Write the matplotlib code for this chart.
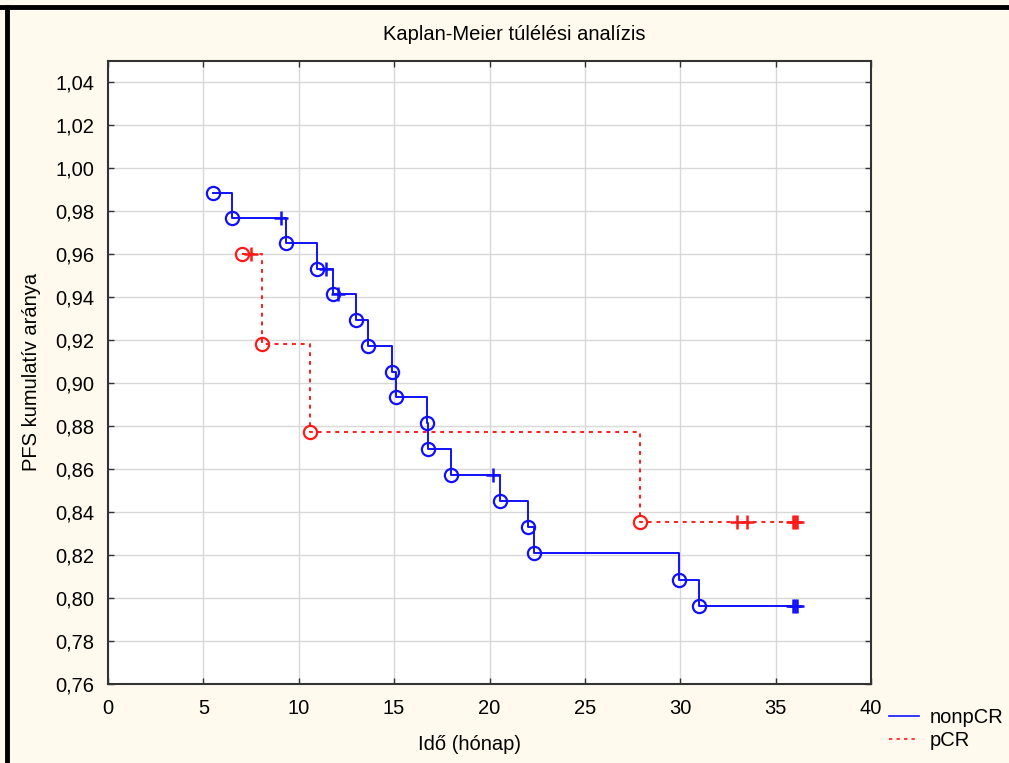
import matplotlib
matplotlib.use("Agg")
import matplotlib.pyplot as plt
from matplotlib.lines import Line2D
from matplotlib.ticker import FuncFormatter, MultipleLocator

plt.rcParams['font.family'] = ['Liberation Sans', 'DejaVu Sans']

# nonpCR: események (idő, túlélés) és cenzorált idők
non_t = [5.5, 6.5, 9.33, 10.96, 11.8, 13.0, 13.63, 14.89, 15.1, 16.72, 16.78,
         17.98, 20.55, 22.0, 22.33, 29.93, 30.98]
non_s = [0.9885, 0.9768, 0.9652, 0.9532, 0.9416, 0.9295, 0.9174, 0.9053, 0.8933,
         0.8812, 0.8691, 0.8570, 0.8450, 0.8329, 0.8208, 0.8083, 0.7962]
non_cens_t = [9.07, 11.43, 12.06, 20.18, 35.9, 36.0, 36.1]
non_cens_s = [0.9768, 0.9532, 0.9416, 0.8570, 0.7962, 0.7962, 0.7962]

# pCR
pcr_t = [7.02, 8.07, 10.59, 27.89]
pcr_s = [0.9601, 0.9183, 0.8770, 0.8352]
pcr_cens_t = [7.5, 32.97, 33.5, 35.9, 36.0, 36.1]
pcr_cens_s = [0.9601, 0.8352, 0.8352, 0.8352, 0.8352, 0.8352]
pcr_end = 36.0
non_end = 36.0

BLUE = '#1010ff'
RED = '#ff1a1a'
FS = 14.5

fig = plt.figure(figsize=(10.09, 7.63), dpi=100)
fig.patch.set_facecolor('#fff9ee')
W, H = 1009, 763
ax = fig.add_axes([108 / W, 1 - 684 / H, (871 - 108) / W, (684 - 61) / H])
ax.set_facecolor('white')


def km_line(t, s, end, color, ls):
    xs = list(t) + [end]
    ys = list(s) + [s[-1]]
    ax.step(xs, ys, where='post', color=color, lw=1.4, ls=ls, zorder=3)
    ax.plot(t, s, ls='none', marker='o', ms=9.5, mfc='none', mec=color, mew=1.6, zorder=4)


km_line(non_t, non_s, non_end, BLUE, '-')
km_line(pcr_t, pcr_s, pcr_end, RED, (0, (2, 2.5)))
ax.plot(non_cens_t, non_cens_s, ls='none', marker='+', ms=10, mew=1.8, color=BLUE, zorder=4)
ax.plot(pcr_cens_t, pcr_cens_s, ls='none', marker='+', ms=10, mew=1.8, color=RED, zorder=4)

ax.set_xlim(0, 40)
ax.set_ylim(0.76, 1.0498)
ax.xaxis.set_major_locator(MultipleLocator(5))
ax.yaxis.set_major_locator(MultipleLocator(0.02))
ax.yaxis.set_major_formatter(FuncFormatter(lambda v, p: f"{v:.2f}".replace('.', ',')))
ax.grid(True, color='#d8d8d8', lw=1)
ax.set_axisbelow(True)
ax.tick_params(direction='in', length=4, width=1, labelsize=FS, top=True, right=True,
               colors='#333333', labelcolor='black')
ax.tick_params(axis='y', pad=10)
ax.tick_params(axis='x', pad=11)
for sp in ax.spines.values():
    sp.set_color('#333333')
    sp.set_linewidth(1.5)

fig.text(514 / W, 1 - 34 / H, 'Kaplan-Meier túlélési analízis', ha='center', va='center', fontsize=FS)
fig.text(470 / W, 1 - 745 / H, 'Idő (hónap)', ha='center', va='center', fontsize=FS)
fig.text(32 / W, 1 - 372 / H, 'PFS kumulatív aránya', ha='center', va='center',
         rotation=90, fontsize=FS)

handles = [Line2D([], [], color=BLUE, lw=1.2),
           Line2D([], [], color=RED, lw=1.2, ls=(0, (2, 2.5)))]
fig.legend(handles, ['nonpCR', 'pCR'], loc='center left',
           bbox_to_anchor=(889 / W, 1 - 729 / H), frameon=False, fontsize=FS,
           handlelength=1.5, handletextpad=0.5, labelspacing=0.2, borderpad=0,
           borderaxespad=0)

# fekete keret fent és bal oldalt
fig.add_artist(Line2D([0, 1], [1 - 7 / H, 1 - 7 / H], color='black', lw=3.5,
                      transform=fig.transFigure))
fig.add_artist(Line2D([7 / W, 7 / W], [0, 1 - 7 / H], color='black', lw=3.5,
                      transform=fig.transFigure))

fig.savefig('out.png', dpi=100, facecolor=fig.get_facecolor())
